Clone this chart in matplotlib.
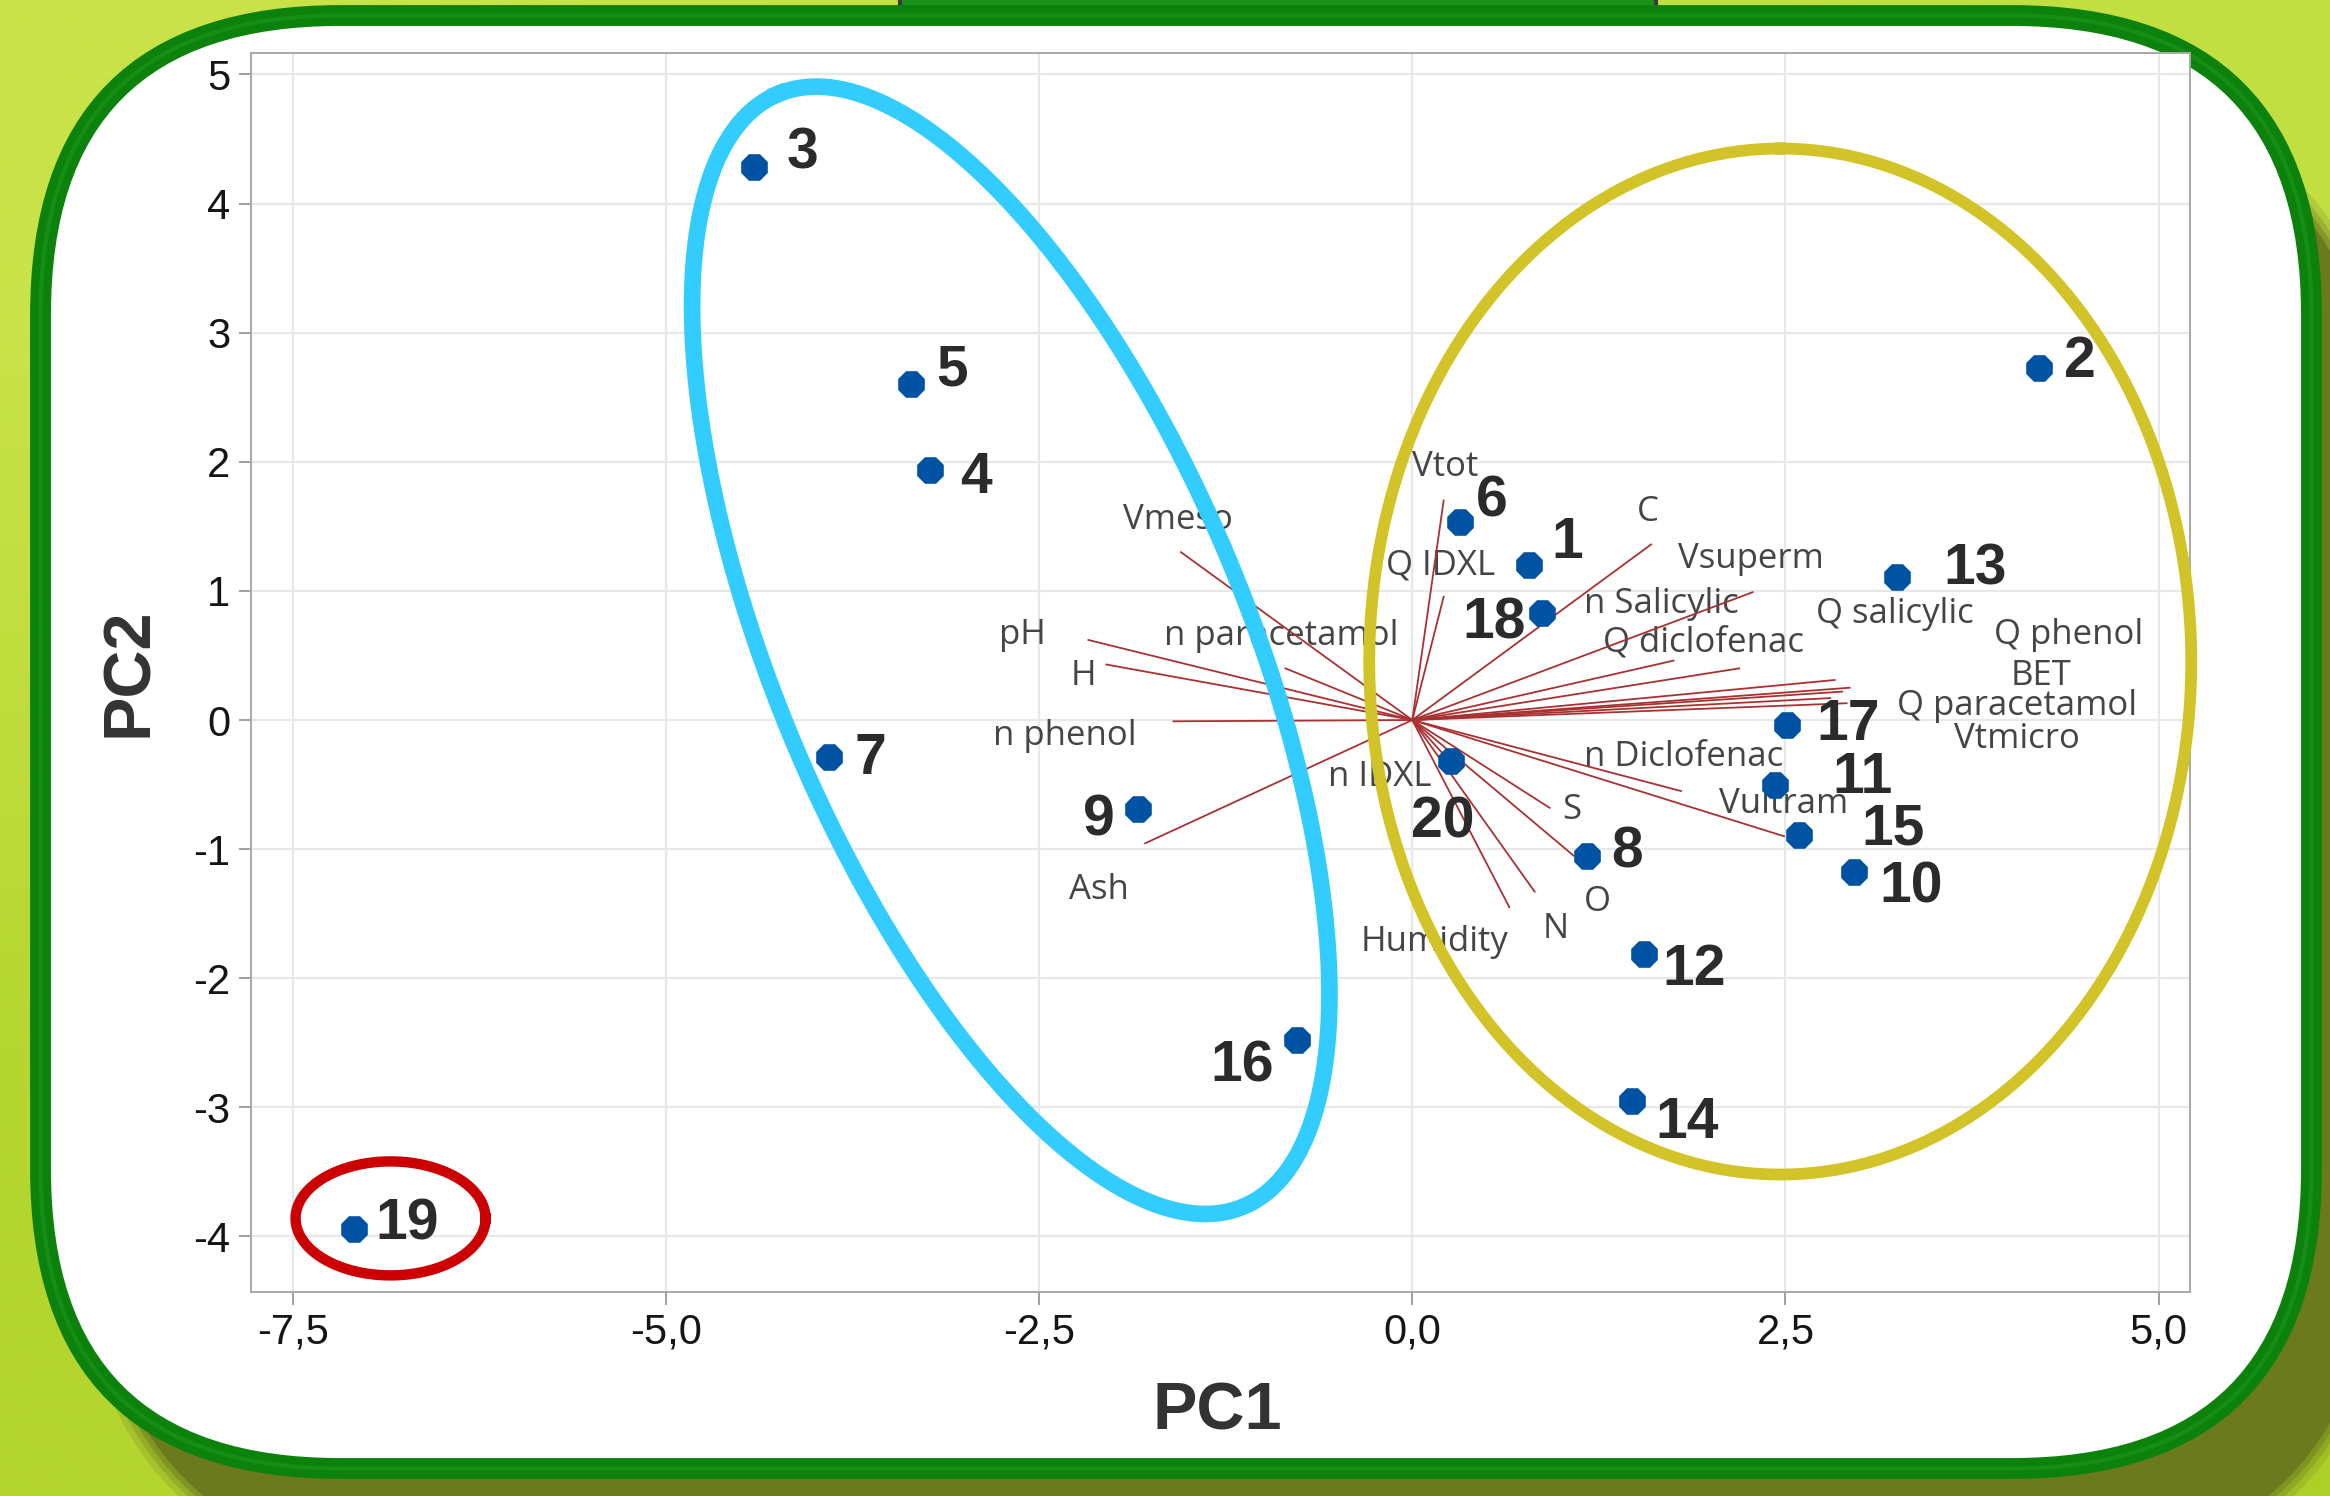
import numpy as np
import matplotlib.pyplot as plt
from matplotlib.patches import FancyBboxPatch, Rectangle

# ------------------------------------------
# PCA biplot data
# ------------------------------------------

# sample scores on PC1 / PC2 (samples 1..20)
sample_ids = [str(i) for i in range(1, 21)]
pc1 = [0.78, 4.20, -4.41, -3.23, -3.36, 0.32, -3.91, 1.17, -1.84, 2.96,
       2.43, 1.555, 3.25, 1.47, 2.59, -0.77, 2.51, 0.87, -7.09, 0.26]
pc2 = [1.20, 2.73, 4.28, 1.94, 2.60, 1.53, -0.29, -1.05, -0.69, -1.18,
       -0.505, -1.81, 1.105, -2.95, -0.89, -2.48, -0.04, 0.83, -3.94, -0.32]

# variable loadings (arrow tips)
var_names = ['Vtot', 'Q IDXL', 'C', 'Vsuperm', 'n Salicylic', 'Q diclofenac',
             'Q salicylic', 'Q phenol', 'BET', 'Q paracetamol', 'Vtmicro',
             'n Diclofenac', 'Vultram', 'S', 'O', 'N', 'Humidity', 'n IDXL',
             'Ash', 'n phenol', 'H', 'pH', 'n paracetamol', 'Vmeso']
load_pc1 = [0.21, 0.21, 1.60, 2.28, 1.75, 2.19,
            2.83, 2.93, 2.88, 2.91, 2.80,
            1.80, 2.49, 0.92, 1.08, 0.82, 0.65, 0.22,
            -1.79, -1.60, -2.05, -2.17, -0.85, -1.55]
load_pc2 = [1.70, 0.955, 1.36, 0.99, 0.46, 0.40,
            0.31, 0.25, 0.22, 0.13, 0.17,
            -0.55, -0.90, -0.68, -1.05, -1.33, -1.45, -0.28,
            -0.955, -0.01, 0.43, 0.62, 0.40, 1.30]

# where the variable names are written
var_label_x = [0.22, 0.19, 1.58, 2.27, 1.67, 1.95,
               3.23, 4.40, 4.21, 4.05, 4.05,
               1.82, 2.49, 1.07, 1.24, 0.96, 0.15, -0.22,
               -2.10, -2.33, -2.20, -2.61, -0.88, -1.57]
var_label_y = [1.96, 1.20, 1.61, 1.25, 0.90, 0.60,
               0.82, 0.66, 0.34, 0.11, -0.15,
               -0.29, -0.65, -0.70, -1.41, -1.62, -1.72, -0.44,
               -1.32, -0.12, 0.34, 0.66, 0.65, 1.55]

# sample number offsets from the markers (points)
id_dx = [28, 29, 35, 33, 30, 23, 30, 29, -28, 41,
         63, 36, 56, 40, 68, -40, 44, -35, 38, -6]
id_dy = [16, 4, 10, -6, 10, 15, -1, 2, -8, -11,
         5, -12, 6, -16, 4, -19, 0, -8, 3, -44]

x_ticks = [-7.5, -5.0, -2.5, 0.0, 2.5, 5.0]
x_tick_labels = ['-7,5', '-5,0', '-2,5', '0,0', '2,5', '5,0']
y_ticks = [-4, -3, -2, -1, 0, 1, 2, 3, 4, 5]
y_tick_labels = ['-4', '-3', '-2', '-1', '0', '1', '2', '3', '4', '5']

xmin, xmax = -7.78, 5.21
ymin, ymax = -4.43, 5.17

W, H = 2330, 1496
fig = plt.figure(figsize=(W / 100, H / 100), dpi=100)

# ------------------------------------------
# background, shadow and green frame
# ------------------------------------------
bg = fig.add_axes([0, 0, 1, 1], zorder=0)
grad = np.array([[[200, 226, 72], [194, 223, 66]],
                 [[180, 213, 46], [172, 208, 40]]]) / 255
bg.imshow(grad, extent=(0, W, H, 0), interpolation='bilinear', aspect='auto')
bg.set_xlim(0, W)
bg.set_ylim(H, 0)
bg.axis('off')

# soft olive drop shadow
for grow, alpha in [(16, 0.2), (10, 0.3), (5, 0.45), (0, 1.0)]:
    bg.add_patch(FancyBboxPatch((90 - grow, 100 - grow), 2292 + 2 * grow, 1474 + 2 * grow,
                                boxstyle='round,pad=0,rounding_size=%d' % (380 + grow),
                                fc='#6c7a1e', ec='none', alpha=alpha))

# small tab peeking out at the top
bg.add_patch(Rectangle((900, -10), 756, 30, fc='#1c921c', ec='#3c3c3c', lw=3))

bg.add_patch(FancyBboxPatch((40.5, 15.5), 2271, 1453,
                            boxstyle='round,pad=0,rounding_size=300',
                            fc='white', ec='#0c820c', lw=15))
bg.add_patch(FancyBboxPatch((40.5, 15.5), 2271, 1453,
                            boxstyle='round,pad=0,rounding_size=300',
                            fc='none', ec='#25a525', lw=3, alpha=0.35))

# ------------------------------------------
# biplot
# ------------------------------------------
ax_left, ax_right = 251 / W, 2190 / W
ax_bottom, ax_top = 1 - 1292 / H, 1 - 52.5 / H
ax = fig.add_axes([ax_left, ax_bottom, ax_right - ax_left, ax_top - ax_bottom], zorder=1)
ax.set_facecolor('white')
ax.set_xlim(xmin, xmax)
ax.set_ylim(ymin, ymax)

ax.set_xticks(x_ticks)
ax.set_xticklabels(x_tick_labels)
ax.set_yticks(y_ticks)
ax.set_yticklabels(y_tick_labels)
ax.tick_params(length=9, width=1.4, color='#a0a0a0', pad=6, labelsize=30,
               labelcolor='#151515')
for lab in ax.get_xticklabels() + ax.get_yticklabels():
    lab.set_family('Liberation Sans')
for sp in ax.spines.values():
    sp.set_color('#a8a8a8')
    sp.set_linewidth(1.4)
ax.grid(color='#e8e8e8', lw=1.6)
ax.set_axisbelow(True)

# loading arrows and their names
for name, lx, ly, tx, ty in zip(var_names, load_pc1, load_pc2, var_label_x, var_label_y):
    ax.plot([0, lx], [0, ly], color='#a83232', lw=1.3, zorder=3)
    ax.text(tx, ty, name, fontsize=25, family='Open Sans', color='#454545',
            ha='center', va='center', zorder=2)

# sample scores
ax.scatter(pc1, pc2, s=430, marker='8', color='#0052a3', linewidths=0, zorder=5)
for sid, x, y, dx, dy in zip(sample_ids, pc1, pc2, id_dx, id_dy):
    ax.annotate(sid, (x, y), xytext=(dx, dy), textcoords='offset points',
                ha='center', va='center', fontsize=41, fontweight='bold',
                family='Liberation Sans', color='#2b2b2b', zorder=6)

# group outlines, sized in pixels so they keep their shape
sx = (ax_right - ax_left) * W / (xmax - xmin)
sy = (ax_top - ax_bottom) * H / (ymax - ymin)


def ring(cx, cy, a, b, angle):
    t = np.linspace(0, 2 * np.pi, 500)
    th = np.deg2rad(angle)
    px = a * np.cos(t) * np.cos(th) - b * np.sin(t) * np.sin(th)
    py = a * np.cos(t) * np.sin(th) + b * np.sin(t) * np.cos(th)
    return cx + px / sx, cy + py / sy


ex, ey = ring(-2.69, 0.54, 603, 236, 112.7)
ax.plot(ex, ey, color='#33ccff', lw=12, zorder=4, clip_on=False)
ex, ey = ring(2.465, 0.453, 513, 411, 90)
ax.plot(ex, ey, color='#d2c328', lw=8.5, zorder=4, clip_on=False)
ex, ey = ring(-6.845, -3.86, 95, 57, 0)
ax.plot(ex, ey, color='#cc0000', lw=7.5, zorder=4, clip_on=False)

# axis titles
fig.text(1217 / W, 1 - 1413 / H, 'PC1', fontsize=48, fontweight='bold',
         family='Liberation Sans', color='#333333', ha='center', va='center')
fig.text(130 / W, 1 - 672 / H, 'PC2', fontsize=48, fontweight='bold', rotation=90,
         family='Liberation Sans', color='#333333', ha='center', va='center')

fig.savefig('out.png', dpi=100)
